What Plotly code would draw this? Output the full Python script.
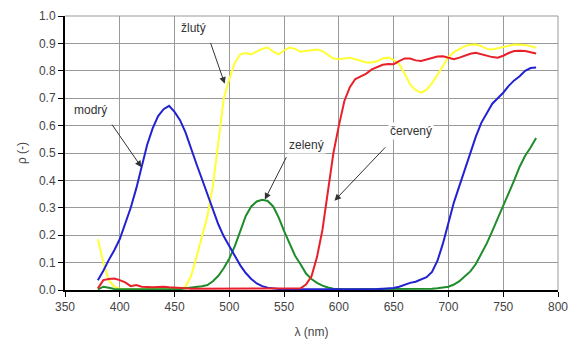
import plotly.graph_objects as go

# Wavelength grid (nm)
wavelength = list(range(380, 785, 5))

# Spectral reflectance values (81 points, 380-780 nm)
modry = [0.036, 0.07, 0.11, 0.145, 0.186, 0.24, 0.30, 0.37, 0.448, 0.53,      # 380-425
         0.59, 0.635, 0.66, 0.672, 0.65, 0.62, 0.575, 0.515, 0.46, 0.405,     # 430-475
         0.35, 0.29, 0.239, 0.195, 0.16, 0.125, 0.09, 0.062, 0.04, 0.024,     # 480-525
         0.014, 0.008, 0.005, 0.004, 0.003, 0.003, 0.002, 0.003, 0.002, 0.003,  # 530-575
         0.003, 0.002, 0.003, 0.002, 0.003, 0.003, 0.002, 0.003, 0.003, 0.003,  # 580-625
         0.004, 0.004, 0.005, 0.005, 0.007, 0.012, 0.02, 0.026, 0.03, 0.038,  # 630-675
         0.047, 0.066, 0.107, 0.17, 0.24, 0.32, 0.38, 0.44, 0.50, 0.56,       # 680-725
         0.61, 0.645, 0.68, 0.70, 0.72, 0.745, 0.765, 0.78, 0.80, 0.81,       # 730-775
         0.812]                                                                # 780

zluty = [0.185, 0.10, 0.036, 0.012, 0.005, 0.003, 0.003, 0.003, 0.003, 0.003,  # 380-425
         0.003, 0.003, 0.003, 0.003, 0.003, 0.003, 0.012, 0.05, 0.12, 0.19,   # 430-475
         0.27, 0.38, 0.54, 0.70, 0.77, 0.83, 0.86, 0.865, 0.86, 0.87,         # 480-525
         0.88, 0.885, 0.87, 0.86, 0.875, 0.885, 0.88, 0.87, 0.872, 0.875,     # 530-575
         0.878, 0.872, 0.86, 0.845, 0.842, 0.845, 0.848, 0.842, 0.835, 0.83,  # 580-625
         0.83, 0.835, 0.845, 0.848, 0.84, 0.825, 0.79, 0.75, 0.73, 0.72,      # 630-675
         0.73, 0.755, 0.785, 0.82, 0.85, 0.868, 0.88, 0.89, 0.895, 0.896,     # 680-725
         0.89, 0.88, 0.878, 0.882, 0.886, 0.89, 0.896, 0.895, 0.894, 0.89,    # 730-775
         0.884]                                                                 # 780

zeleny = [0.002, 0.012, 0.008, 0.004, 0.003, 0.003, 0.003, 0.003, 0.003, 0.003,  # 380-425
          0.003, 0.003, 0.003, 0.003, 0.003, 0.003, 0.006, 0.008, 0.01, 0.014,   # 430-475
          0.018, 0.032, 0.052, 0.08, 0.115, 0.16, 0.215, 0.27, 0.305, 0.323,     # 480-525
          0.329, 0.325, 0.305, 0.265, 0.215, 0.17, 0.125, 0.094, 0.06, 0.04,     # 530-575
          0.026, 0.016, 0.009, 0.005, 0.003, 0.003, 0.003, 0.003, 0.003, 0.003,  # 580-625
          0.003, 0.003, 0.003, 0.003, 0.003, 0.003, 0.003, 0.003, 0.003, 0.003,  # 630-675
          0.003, 0.005, 0.006, 0.008, 0.012, 0.02, 0.032, 0.05, 0.068, 0.095,    # 680-725
          0.13, 0.17, 0.215, 0.26, 0.305, 0.35, 0.40, 0.45, 0.49, 0.52,          # 730-775
          0.555]                                                                  # 780

cerveny = [0.006, 0.036, 0.04, 0.042, 0.036, 0.028, 0.014, 0.018, 0.012, 0.01,   # 380-425
           0.01, 0.011, 0.012, 0.01, 0.008, 0.007, 0.006, 0.005, 0.005, 0.005,   # 430-475
           0.005, 0.005, 0.005, 0.005, 0.005, 0.005, 0.004, 0.005, 0.004, 0.004, # 480-525
           0.004, 0.004, 0.004, 0.004, 0.004, 0.004, 0.004, 0.006, 0.02, 0.05,   # 530-575
           0.12, 0.22, 0.36, 0.50, 0.60, 0.69, 0.74, 0.77, 0.78, 0.79,           # 580-625
           0.805, 0.815, 0.822, 0.825, 0.824, 0.835, 0.845, 0.845, 0.838, 0.836, # 630-675
           0.842, 0.848, 0.852, 0.853, 0.848, 0.842, 0.848, 0.855, 0.862, 0.866, # 680-725
           0.86, 0.854, 0.85, 0.848, 0.855, 0.865, 0.872, 0.873, 0.872, 0.868,   # 730-775
           0.863]                                                                 # 780

x_ticks = [350, 400, 450, 500, 550, 600, 650, 700, 750, 800]
y_ticks = [0.0, 0.1, 0.2, 0.3, 0.4, 0.5, 0.6, 0.7, 0.8, 0.9, 1.0]

series = [
    ("žlutý", zluty, "#ffff33"),
    ("zelený", zeleny, "#1e8c2a"),
    ("modrý", modry, "#2222d2"),
    ("červený", cerveny, "#e8202a"),
]

fig = go.Figure()
for name, vals, col in series:
    fig.add_trace(go.Scatter(x=wavelength, y=vals, mode="lines", name=name,
                             line=dict(color=col, width=2), showlegend=False))

font = "Liberation Sans, Arial, sans-serif"
fig.update_layout(
    width=577, height=347,
    margin=dict(l=65, r=9, t=11, b=57),
    paper_bgcolor="white", plot_bgcolor="white",
    font=dict(family=font, size=12, color="#444444"),
    xaxis=dict(range=[350, 800], tickvals=x_ticks, ticktext=[str(v) for v in x_ticks],
               showgrid=True, gridcolor="#999999", gridwidth=1,
               showline=True, linecolor="black", linewidth=2,
               ticks="outside", ticklen=5, tickcolor="black", tickwidth=1,
               zeroline=False, ticklabeloverflow="allow",
               title=dict(text="λ (nm)", standoff=14, font=dict(size=12, color="#444444"))),
    yaxis=dict(range=[0, 1.0], tickvals=y_ticks, ticktext=[f"{v:.1f}" for v in y_ticks],
               showgrid=True, gridcolor="#999999", gridwidth=1,
               showline=True, linecolor="black", linewidth=2,
               ticks="outside", ticklen=5, tickcolor="black", tickwidth=1,
               zeroline=False,
               title=dict(text="ρ (-)", standoff=10, font=dict(size=12, color="#444444"))),
    shapes=[
        dict(type="line", xref="paper", yref="paper", x0=0, x1=1, y0=1, y1=1,
             line=dict(color="#999999", width=1)),
        dict(type="line", xref="paper", yref="paper", x0=1, x1=1, y0=0, y1=1,
             line=dict(color="#999999", width=1)),
    ],
)

labels = [
    # text, text_x, text_y, tail_x, tail_y, head_x, head_y
    ("modrý", 373.7, 0.656, 392, 0.609, 419.8, 0.448),
    ("žlutý", 467.5, 0.957, 482.4, 0.907, 495.8, 0.753),
    ("zelený", 570, 0.53, 552.7, 0.49, 532.4, 0.33),
    ("červený", 665.7, 0.58, 643.6, 0.526, 596, 0.326),
]
for text, tx, ty, ax, ay, hx, hy in labels:
    fig.add_annotation(x=tx, y=ty, text=text, showarrow=False,
                       font=dict(family=font, size=12, color="#333333"),
                       bgcolor="white")
    fig.add_annotation(x=hx, y=hy, ax=ax, ay=ay, axref="x", ayref="y",
                       text="", showarrow=True, arrowhead=2, arrowsize=1.3,
                       arrowwidth=1, arrowcolor="#333333")

fig.write_html("out.html")
